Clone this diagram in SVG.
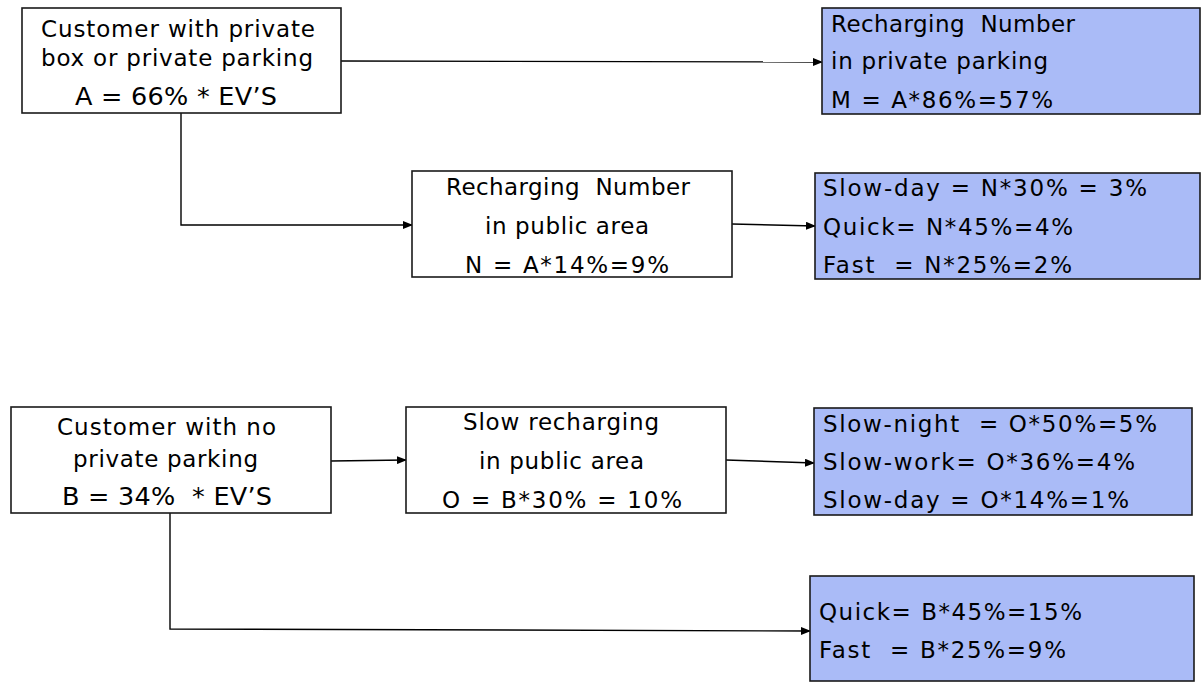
<svg xmlns="http://www.w3.org/2000/svg" width="1202" height="682" viewBox="0 0 1202 682">
<defs>
<marker id="arr" markerWidth="10" markerHeight="8" refX="9" refY="4" orient="auto" markerUnits="userSpaceOnUse">
<path d="M0,0 L10,4 L0,8 Z" fill="#000"/>
</marker>
<style>
.box{fill:#fff;stroke:#1a1a1a;stroke-width:1.6}
.blue{fill:#aabbf7;stroke:#1a1a1a;stroke-width:1.6}
text{font-family:"DejaVu Sans","Verdana",sans-serif;font-size:23px;fill:#000;white-space:pre}
.big{font-size:25.5px}
.conn{fill:none;stroke:#000;stroke-width:1.4;marker-end:url(#arr)}
</style>
</defs>
<rect width="1202" height="682" fill="#fff"/>
<g id="connectors">
<path class="conn" d="M341,61 L822,62"/>
<path class="conn" d="M181,113 L181,225 L412,225"/>
<path class="conn" d="M732,224 L815,226"/>
<path class="conn" d="M331,461 L406,460"/>
<path class="conn" d="M726,460 L814,463"/>
<path class="conn" d="M170,513 L170,629 L810,631"/>
</g>
<g id="nodeA">
<rect class="box" x="22" y="8" width="319" height="105"/>
<text x="41" y="37" textLength="274" lengthAdjust="spacing">Customer with private</text>
<text x="41" y="66" textLength="272" lengthAdjust="spacing">box or private parking</text>
<text class="big" x="75" y="105" textLength="202" lengthAdjust="spacing">A = 66% * EV’S</text>
</g>
<g id="nodeM">
<rect class="blue" x="822" y="8" width="378" height="106"/>
<text x="831" y="32" textLength="244" lengthAdjust="spacing">Recharging  Number</text>
<text x="831" y="69" textLength="217" lengthAdjust="spacing">in private parking</text>
<text x="831" y="108" textLength="222" lengthAdjust="spacing">M = A*86%=57%</text>
</g>
<g id="nodeN">
<rect class="box" x="412" y="171" width="320" height="106"/>
<text x="446" y="195" textLength="244" lengthAdjust="spacing">Recharging  Number</text>
<text x="485" y="234" textLength="164" lengthAdjust="spacing">in public area</text>
<text x="465" y="273" textLength="204" lengthAdjust="spacing">N = A*14%=9%</text>
</g>
<g id="nodeNsplit">
<rect class="blue" x="815" y="173" width="385" height="106"/>
<text x="823" y="196" textLength="324" lengthAdjust="spacing">Slow-day = N*30% = 3%</text>
<text x="823" y="235" textLength="250" lengthAdjust="spacing">Quick= N*45%=4%</text>
<text x="823" y="273" textLength="249" lengthAdjust="spacing">Fast  = N*25%=2%</text>
</g>
<g id="nodeB">
<rect class="box" x="11" y="407" width="320" height="106"/>
<text x="57" y="435" textLength="219" lengthAdjust="spacing">Customer with no</text>
<text x="73" y="467" textLength="185" lengthAdjust="spacing">private parking</text>
<text class="big" x="62" y="505" textLength="210" lengthAdjust="spacing">B = 34%  * EV’S</text>
</g>
<g id="nodeO">
<rect class="box" x="406" y="407" width="320" height="106"/>
<text x="463" y="430" textLength="196" lengthAdjust="spacing">Slow recharging</text>
<text x="479" y="469" textLength="165" lengthAdjust="spacing">in public area</text>
<text x="442" y="508" textLength="240" lengthAdjust="spacing">O = B*30% = 10%</text>
</g>
<g id="nodeOsplit">
<rect class="blue" x="814" y="408" width="378" height="107"/>
<text x="823" y="432" textLength="334" lengthAdjust="spacing">Slow-night  = O*50%=5%</text>
<text x="823" y="470" textLength="312" lengthAdjust="spacing">Slow-work= O*36%=4%</text>
<text x="823" y="508" textLength="306" lengthAdjust="spacing">Slow-day = O*14%=1%</text>
</g>
<g id="nodeBsplit">
<rect class="blue" x="810" y="576" width="384" height="105"/>
<text x="819" y="620" textLength="263" lengthAdjust="spacing">Quick= B*45%=15%</text>
<text x="819" y="658" textLength="247" lengthAdjust="spacing">Fast  = B*25%=9%</text>
</g>
</svg>
